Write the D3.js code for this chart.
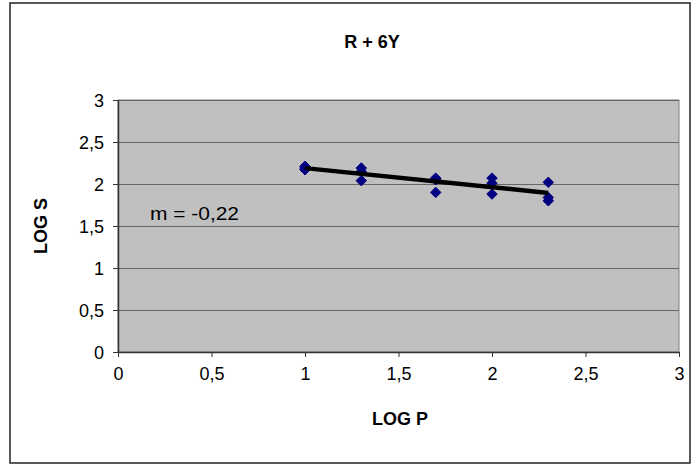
<!DOCTYPE html>
<html>
<head>
<meta charset="utf-8">
<script src="https://cdn.jsdelivr.net/npm/d3@7"></script>
<style>
  html, body { margin: 0; padding: 0; background: #fff; }
  svg { display: block; font-family: "Liberation Sans", Arial, sans-serif; }
</style>
</head>
<body>
<svg id="chart" width="700" height="465"></svg>
<script>
// ---- data ----
const logP = [1, 1, 1, 1.301, 1.301, 1.301, 1.699, 1.699, 1.699, 2, 2, 2, 2.301, 2.301, 2.301];
const logS = [2.21, 2.17, 2.19, 2.19, 2.04, 2.15, 2.07, 1.90, 2.05, 2.07, 1.88, 2.01, 2.02, 1.84, 1.80];
const xTicks = [0, 0.5, 1, 1.5, 2, 2.5, 3];
const yTicks = [0, 0.5, 1, 1.5, 2, 2.5, 3];
const title = "R + 6Y";
const xTitle = "LOG P";
const yTitle = "LOG S";
const slopeLabel = "m = -0,22";

// ---- layout ----
const svg = d3.select("#chart");
const plot = { left: 118, right: 679, top: 100, bottom: 352 };
const x = d3.scaleLinear().domain([0, 3]).range([plot.left, plot.right]);
const y = d3.scaleLinear().domain([0, 3]).range([plot.bottom, plot.top]);
const fmt = d => String(d).replace(".", ",");

// outer chart border
svg.append("rect")
  .attr("x", 10).attr("y", 3).attr("width", 680).attr("height", 460)
  .attr("fill", "#fff").attr("stroke", "#222").attr("stroke-width", 1.5);

// plot background
svg.append("rect")
  .attr("x", plot.left).attr("y", plot.top)
  .attr("width", plot.right - plot.left).attr("height", plot.bottom - plot.top)
  .attr("fill", "#c0c0c0").attr("stroke", "#808080").attr("stroke-width", 1);

// gridlines
svg.append("g").selectAll("line").data(yTicks.filter(d => d > 0)).join("line")
  .attr("x1", plot.left).attr("x2", plot.right)
  .attr("y1", d => Math.round(y(d)) + 0.5).attr("y2", d => Math.round(y(d)) + 0.5)
  .attr("stroke", "#666").attr("stroke-width", 1);

// axes
const xAxis = d3.axisBottom(x).tickValues(xTicks).tickFormat(fmt).tickSizeOuter(0).tickSizeInner(5).tickPadding(10);
const yAxis = d3.axisLeft(y).tickValues(yTicks).tickFormat(fmt).tickSizeOuter(0).tickSizeInner(5).tickPadding(9);

const gx = svg.append("g").attr("transform", `translate(0,${plot.bottom})`).call(xAxis);
const gy = svg.append("g").attr("transform", `translate(${plot.left},0)`).call(yAxis);
[gx, gy].forEach(g => {
  g.select(".domain").attr("stroke", "#333").attr("stroke-width", 1.5);
  g.selectAll(".tick line").attr("stroke", "#333");
  g.selectAll(".tick text").attr("font-size", 18).attr("fill", "#000")
    .attr("font-family", "'Liberation Sans', Arial, sans-serif");
});
gy.selectAll(".tick text").attr("dy", "0.36em");

// trend line (least squares)
const n = logP.length;
const mx = d3.mean(logP), my = d3.mean(logS);
let sxy = 0, sxx = 0;
for (let i = 0; i < n; i++) { sxy += (logP[i] - mx) * (logS[i] - my); sxx += (logP[i] - mx) ** 2; }
const slope = sxy / sxx, intercept = my - slope * mx;
const xExt = d3.extent(logP);

// markers
const diamond = d3.symbol().type(d3.symbolDiamond2).size(70);
svg.append("g").selectAll("path").data(logP.map((p, i) => [p, logS[i]])).join("path")
  .attr("d", diamond)
  .attr("transform", d => `translate(${x(d[0])},${y(d[1])})`)
  .attr("fill", "#000080").attr("stroke", "#000080").attr("stroke-width", 1);

svg.append("line")
  .attr("x1", x(xExt[0])).attr("y1", y(intercept + slope * xExt[0]))
  .attr("x2", x(xExt[1])).attr("y2", y(intercept + slope * xExt[1]))
  .attr("stroke", "#000").attr("stroke-width", 4.5);

// slope label
svg.append("text").attr("x", 150).attr("y", 220)
  .attr("font-size", 18).attr("fill", "#000")
  .attr("textLength", 89).attr("lengthAdjust", "spacingAndGlyphs")
  .text(slopeLabel);

// titles
svg.append("text").attr("x", 372).attr("y", 48).attr("text-anchor", "middle")
  .attr("font-size", 18).attr("font-weight", "bold").text(title);
svg.append("text").attr("x", 400).attr("y", 425).attr("text-anchor", "middle")
  .attr("font-size", 18).attr("font-weight", "bold").text(xTitle);
svg.append("text").attr("transform", `translate(47,${(plot.top + plot.bottom) / 2}) rotate(-90)`)
  .attr("text-anchor", "middle")
  .attr("font-size", 18).attr("font-weight", "bold").text(yTitle);
</script>
</body>
</html>
